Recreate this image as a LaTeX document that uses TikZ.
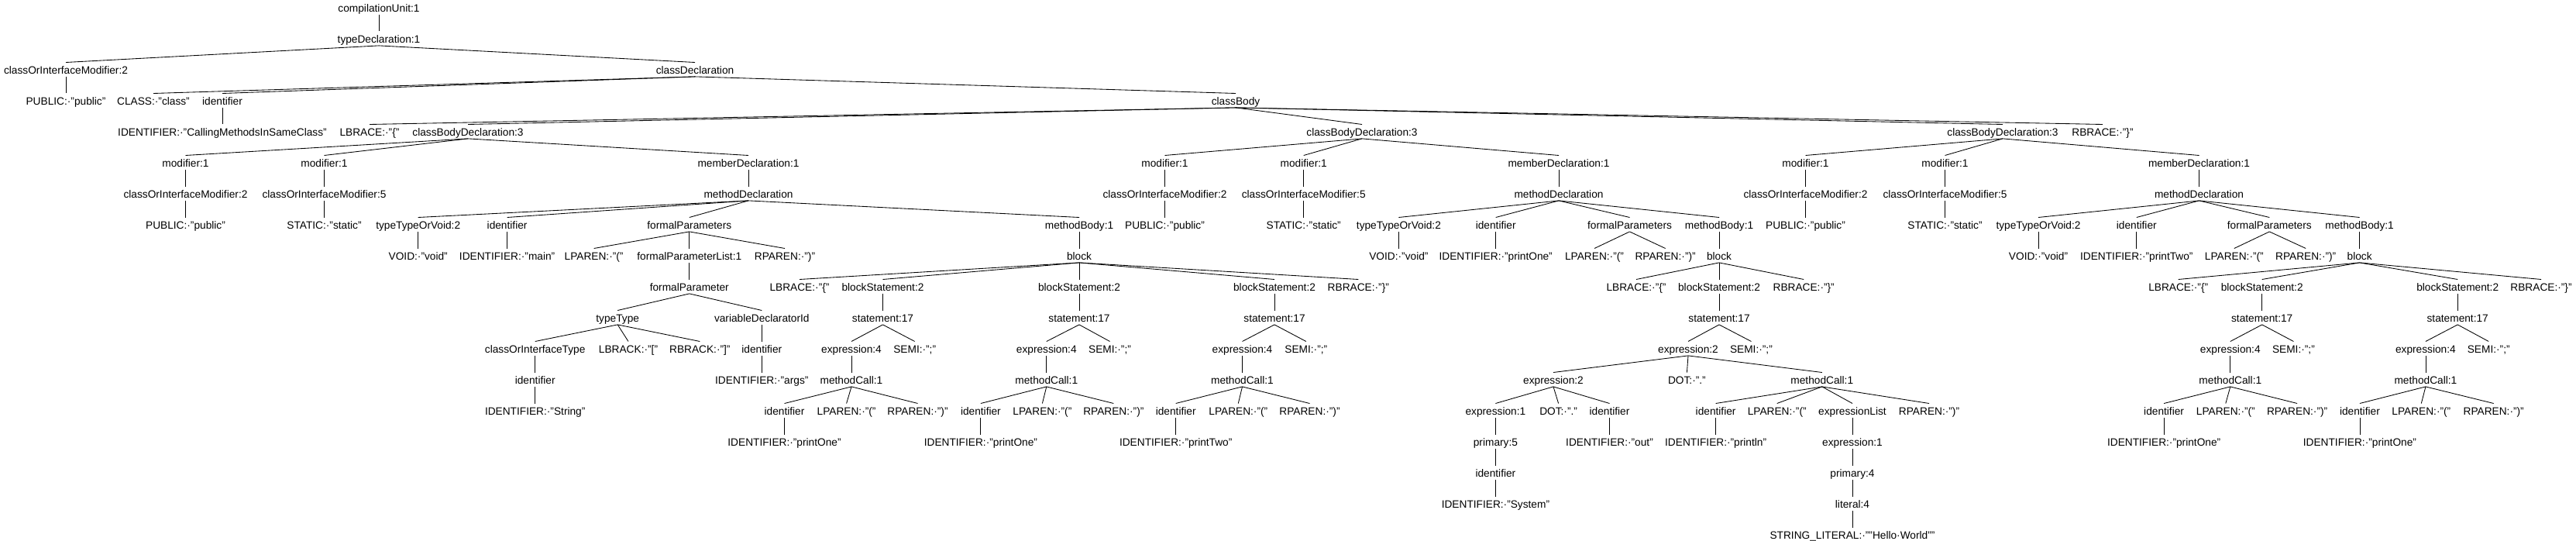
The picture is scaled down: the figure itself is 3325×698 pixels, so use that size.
\documentclass[tikz,border=0pt]{standalone}
\usepackage{fontspec}
\setmainfont{Liberation Sans}
\begin{document}
\begin{tikzpicture}[x=1pt,y=1pt,
  tn/.style={anchor=base, inner sep=0pt, text height=15pt, text depth=3pt, font=\fontsize{13.7}{16}\selectfont},
  edge/.style={line width=0.85pt, black}]
\useasboundingbox (0,0) rectangle (3325,-698);
\newcommand\nd[4]{\node[tn] (#1) at (#2,{-15.7-40*#3}) {#4};}
% row 0-4
\nd{n0}{489}{0}{compilationUnit:1}
\nd{n1}{489}{1}{typeDeclaration:1}
\nd{coim0}{85}{2}{classOrInterfaceModifier:2}
\nd{cd}{897}{2}{classDeclaration}
\nd{pub0}{85}{3}{PUBLIC:·"public"}
\nd{cls}{198}{3}{CLASS:·"class"}
\nd{id0}{287}{3}{identifier}
\nd{cb}{1595}{3}{classBody}
\nd{idc}{287}{4}{IDENTIFIER:·"CallingMethodsInSameClass"}
\nd{lb0}{477}{4}{LBRACE:·"\{"}
\nd{cbdA}{604}{4}{classBodyDeclaration:3}
\nd{cbdB}{1758}{4}{classBodyDeclaration:3}
\nd{cbdC}{2585}{4}{classBodyDeclaration:3}
\nd{rb0}{2714}{4}{RBRACE:·"\}"}
% row 5
\nd{mA1}{239.5}{5}{modifier:1}
\nd{mA2}{418.5}{5}{modifier:1}
\nd{mdA}{966}{5}{memberDeclaration:1}
\nd{mB1}{1503.5}{5}{modifier:1}
\nd{mB2}{1682.7}{5}{modifier:1}
\nd{mdB}{2012}{5}{memberDeclaration:1}
\nd{mC1}{2330.5}{5}{modifier:1}
\nd{mC2}{2510.5}{5}{modifier:1}
\nd{mdC}{2838.5}{5}{memberDeclaration:1}
% row 6
\nd{cA1}{239.5}{6}{classOrInterfaceModifier:2}
\nd{cA2}{418.5}{6}{classOrInterfaceModifier:5}
\nd{methA}{966}{6}{methodDeclaration}
\nd{cB1}{1503.5}{6}{classOrInterfaceModifier:2}
\nd{cB2}{1682.7}{6}{classOrInterfaceModifier:5}
\nd{methB}{2012}{6}{methodDeclaration}
\nd{cC1}{2330.5}{6}{classOrInterfaceModifier:2}
\nd{cC2}{2510.5}{6}{classOrInterfaceModifier:5}
\nd{methC}{2838.5}{6}{methodDeclaration}
% row 7
\nd{pA}{239.5}{7}{PUBLIC:·"public"}
\nd{sA}{418.5}{7}{STATIC:·"static"}
\nd{ttA}{539.7}{7}{typeTypeOrVoid:2}
\nd{idA}{654.6}{7}{identifier}
\nd{fpA}{889.8}{7}{formalParameters}
\nd{mbA}{1393}{7}{methodBody:1}
\nd{pB}{1503.5}{7}{PUBLIC:·"public"}
\nd{sB}{1682.7}{7}{STATIC:·"static"}
\nd{ttB}{1805.4}{7}{typeTypeOrVoid:2}
\nd{idB}{1930.7}{7}{identifier}
\nd{fpB}{2103.5}{7}{formalParameters}
\nd{mbB}{2219}{7}{methodBody:1}
\nd{pC}{2330.5}{7}{PUBLIC:·"public"}
\nd{sC}{2510.5}{7}{STATIC:·"static"}
\nd{ttC}{2631}{7}{typeTypeOrVoid:2}
\nd{idC}{2757.8}{7}{identifier}
\nd{fpC}{2929.3}{7}{formalParameters}
\nd{mbC}{3045.6}{7}{methodBody:1}
% row 8
\nd{vA}{539.7}{8}{VOID:·"void"}
\nd{imA}{654.6}{8}{IDENTIFIER:·"main"}
\nd{lpA}{766.6}{8}{LPAREN:·"("}
\nd{fplA}{889.8}{8}{formalParameterList:1}
\nd{rpA}{1013}{8}{RPAREN:·")"}
\nd{blA}{1393}{8}{block}
\nd{vB}{1805.4}{8}{VOID:·"void"}
\nd{ipB}{1930.7}{8}{IDENTIFIER:·"printOne"}
\nd{lpB}{2058}{8}{LPAREN:·"("}
\nd{rpB}{2149.6}{8}{RPAREN:·")"}
\nd{blB}{2219}{8}{block}
\nd{vC}{2631}{8}{VOID:·"void"}
\nd{ipC}{2757.8}{8}{IDENTIFIER:·"printTwo"}
\nd{lpC}{2883.8}{8}{LPAREN:·"("}
\nd{rpC}{2976.2}{8}{RPAREN:·")"}
\nd{blC}{3045.6}{8}{block}
% row 9
\nd{fparA}{889.8}{9}{formalParameter}
\nd{lbA}{1032}{9}{LBRACE:·"\{"}
\nd{bsA1}{1139.5}{9}{blockStatement:2}
\nd{bsA2}{1393}{9}{blockStatement:2}
\nd{bsA3}{1645}{9}{blockStatement:2}
\nd{rbA}{1753.3}{9}{RBRACE:·"\}"}
\nd{lbB}{2112}{9}{LBRACE:·"\{"}
\nd{bsB}{2219}{9}{blockStatement:2}
\nd{rbB}{2328.2}{9}{RBRACE:·"\}"}
\nd{lbC}{2811.7}{9}{LBRACE:·"\{"}
\nd{bsC1}{2919.7}{9}{blockStatement:2}
\nd{bsC2}{3172.2}{9}{blockStatement:2}
\nd{rbC}{3280}{9}{RBRACE:·"\}"}
% row 10
\nd{ttyA}{797.2}{10}{typeType}
\nd{vdiA}{983.3}{10}{variableDeclaratorId}
\nd{stA1}{1139.5}{10}{statement:17}
\nd{stA2}{1393}{10}{statement:17}
\nd{stA3}{1645}{10}{statement:17}
\nd{stB}{2219}{10}{statement:17}
\nd{stC1}{2919.7}{10}{statement:17}
\nd{stC2}{3172.2}{10}{statement:17}
% row 11
\nd{coitA}{690.7}{11}{classOrInterfaceType}
\nd{lbkA}{811}{11}{LBRACK:·"["}
\nd{rbkA}{903.3}{11}{RBRACK:·"]"}
\nd{idvA}{983.3}{11}{identifier}
\nd{exA1}{1099}{11}{expression:4}
\nd{seA1}{1180.7}{11}{SEMI:·";"}
\nd{exA2}{1350.8}{11}{expression:4}
\nd{seA2}{1432.5}{11}{SEMI:·";"}
\nd{exA3}{1603.5}{11}{expression:4}
\nd{seA3}{1685.8}{11}{SEMI:·";"}
\nd{exB}{2179}{11}{expression:2}
\nd{seB}{2260.4}{11}{SEMI:·";"}
\nd{exC1}{2878.8}{11}{expression:4}
\nd{seC1}{2960.4}{11}{SEMI:·";"}
\nd{exC2}{3130.9}{11}{expression:4}
\nd{seC2}{3212.2}{11}{SEMI:·";"}
% row 12
\nd{idtA}{690.7}{12}{identifier}
\nd{iargs}{983.3}{12}{IDENTIFIER:·"args"}
\nd{mcA1}{1099}{12}{methodCall:1}
\nd{mcA2}{1350.8}{12}{methodCall:1}
\nd{mcA3}{1603.5}{12}{methodCall:1}
\nd{exB2}{2005}{12}{expression:2}
\nd{dotB}{2177.4}{12}{DOT:·"."}
\nd{mcB}{2351.8}{12}{methodCall:1}
\nd{mcC1}{2878.8}{12}{methodCall:1}
\nd{mcC2}{3130.9}{12}{methodCall:1}
% row 13
\nd{istr}{690.7}{13}{IDENTIFIER:·"String"}
\nd{idm1}{1012.5}{13}{identifier}
\nd{lpm1}{1092.6}{13}{LPAREN:·"("}
\nd{rpm1}{1184.5}{13}{RPAREN:·")"}
\nd{idm2}{1265.9}{13}{identifier}
\nd{lpm2}{1345.4}{13}{LPAREN:·"("}
\nd{rpm2}{1437.3}{13}{RPAREN:·")"}
\nd{idm3}{1517.7}{13}{identifier}
\nd{lpm3}{1598.3}{13}{LPAREN:·"("}
\nd{rpm3}{1690.5}{13}{RPAREN:·")"}
\nd{ex1B}{1930.4}{13}{expression:1}
\nd{dot2B}{2011.6}{13}{DOT:·"."}
\nd{idoB}{2077.5}{13}{identifier}
\nd{idpB}{2214.6}{13}{identifier}
\nd{lppB}{2293.7}{13}{LPAREN:·"("}
\nd{elB}{2391}{13}{expressionList}
\nd{rppB}{2490}{13}{RPAREN:·")"}
\nd{idm4}{2793.1}{13}{identifier}
\nd{lpm4}{2872.8}{13}{LPAREN:·"("}
\nd{rpm4}{2965.1}{13}{RPAREN:·")"}
\nd{idm5}{3045.9}{13}{identifier}
\nd{lpm5}{3125.3}{13}{LPAREN:·"("}
\nd{rpm5}{3218.7}{13}{RPAREN:·")"}
% row 14
\nd{ip1}{1012.5}{14}{IDENTIFIER:·"printOne"}
\nd{ip2}{1265.9}{14}{IDENTIFIER:·"printOne"}
\nd{ip3}{1517.7}{14}{IDENTIFIER:·"printTwo"}
\nd{prB}{1930.4}{14}{primary:5}
\nd{iout}{2077.5}{14}{IDENTIFIER:·"out"}
\nd{ipln}{2214.6}{14}{IDENTIFIER:·"println"}
\nd{ex1bB}{2391}{14}{expression:1}
\nd{ip4}{2793.1}{14}{IDENTIFIER:·"printOne"}
\nd{ip5}{3045.9}{14}{IDENTIFIER:·"printOne"}
% rows 15-17
\nd{idsB}{1930.4}{15}{identifier}
\nd{pr4}{2391}{15}{primary:4}
\nd{isys}{1930.4}{16}{IDENTIFIER:·"System"}
\nd{lit}{2391}{16}{literal:4}
\nd{strl}{2391}{17}{STRING\_LITERAL:·""Hello·World""}
% edges
\foreach \p/\c in {n0/n1, n1/coim0, n1/cd, coim0/pub0, cd/cls, cd/id0, cd/cb, id0/idc,
  cb/lb0, cb/cbdA, cb/cbdB, cb/cbdC, cb/rb0,
  cbdA/mA1, cbdA/mA2, cbdA/mdA, cbdB/mB1, cbdB/mB2, cbdB/mdB, cbdC/mC1, cbdC/mC2, cbdC/mdC,
  mA1/cA1, mA2/cA2, mdA/methA, mB1/cB1, mB2/cB2, mdB/methB, mC1/cC1, mC2/cC2, mdC/methC,
  cA1/pA, cA2/sA, cB1/pB, cB2/sB, cC1/pC, cC2/sC,
  methA/ttA, methA/idA, methA/fpA, methA/mbA,
  methB/ttB, methB/idB, methB/fpB, methB/mbB,
  methC/ttC, methC/idC, methC/fpC, methC/mbC,
  ttA/vA, idA/imA, fpA/lpA, fpA/fplA, fpA/rpA, mbA/blA,
  ttB/vB, idB/ipB, fpB/lpB, fpB/rpB, mbB/blB,
  ttC/vC, idC/ipC, fpC/lpC, fpC/rpC, mbC/blC,
  fplA/fparA, blA/lbA, blA/bsA1, blA/bsA2, blA/bsA3, blA/rbA,
  blB/lbB, blB/bsB, blB/rbB, blC/lbC, blC/bsC1, blC/bsC2, blC/rbC,
  fparA/ttyA, fparA/vdiA, bsA1/stA1, bsA2/stA2, bsA3/stA3, bsB/stB, bsC1/stC1, bsC2/stC2,
  ttyA/coitA, ttyA/lbkA, ttyA/rbkA, vdiA/idvA,
  stA1/exA1, stA1/seA1, stA2/exA2, stA2/seA2, stA3/exA3, stA3/seA3,
  stB/exB, stB/seB, stC1/exC1, stC1/seC1, stC2/exC2, stC2/seC2,
  coitA/idtA, idvA/iargs, exA1/mcA1, exA2/mcA2, exA3/mcA3,
  exB/exB2, exB/dotB, exB/mcB, exC1/mcC1, exC2/mcC2,
  idtA/istr, mcA1/idm1, mcA1/lpm1, mcA1/rpm1, mcA2/idm2, mcA2/lpm2, mcA2/rpm2,
  mcA3/idm3, mcA3/lpm3, mcA3/rpm3,
  exB2/ex1B, exB2/dot2B, exB2/idoB, mcB/idpB, mcB/lppB, mcB/elB, mcB/rppB,
  mcC1/idm4, mcC1/lpm4, mcC1/rpm4, mcC2/idm5, mcC2/lpm5, mcC2/rpm5,
  idm1/ip1, idm2/ip2, idm3/ip3, ex1B/prB, idoB/iout, idpB/ipln, elB/ex1bB, idm4/ip4, idm5/ip5,
  prB/idsB, ex1bB/pr4, idsB/isys, pr4/lit, lit/strl}
  \draw[edge] (\p.south) -- (\c.north);
\end{tikzpicture}
\end{document}
